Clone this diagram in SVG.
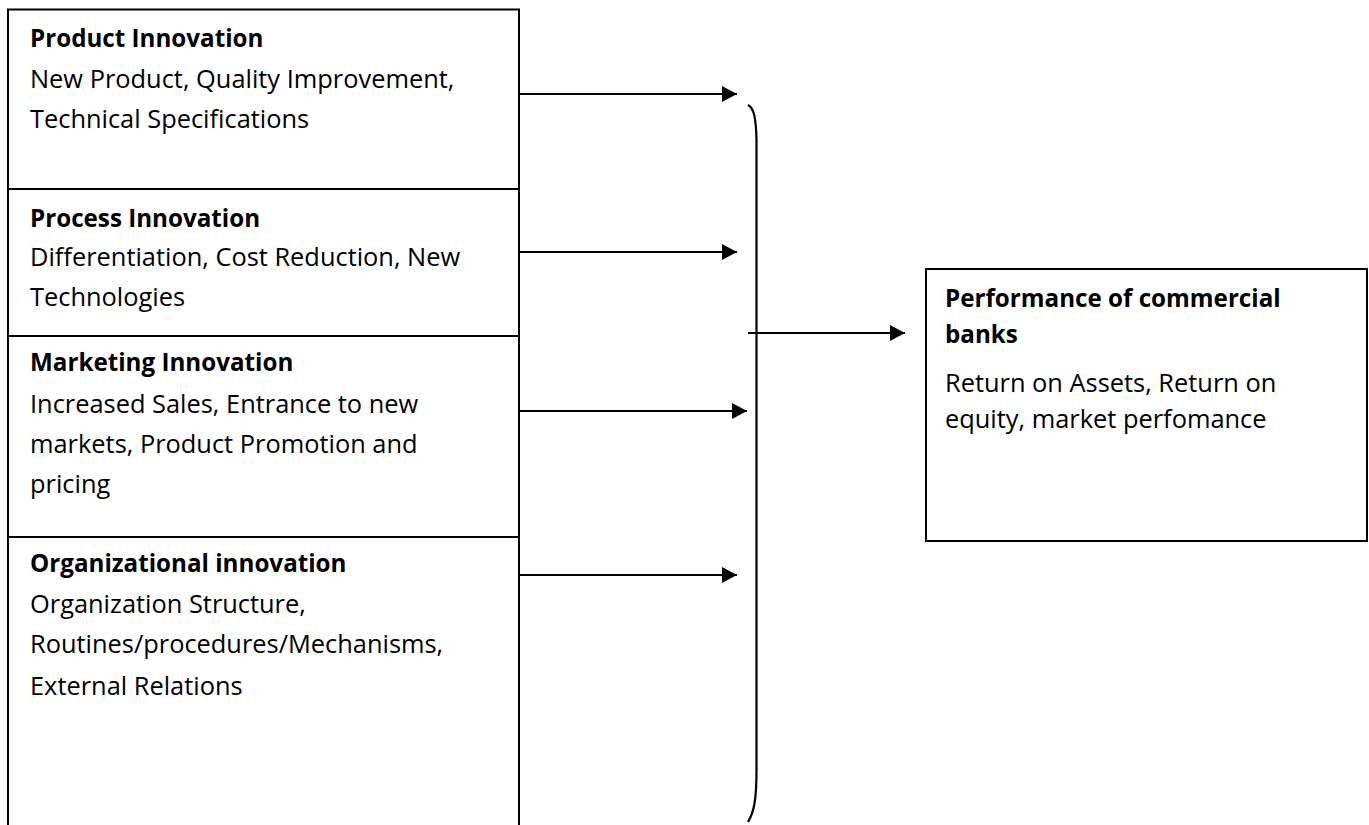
<svg xmlns="http://www.w3.org/2000/svg" width="1369" height="825" viewBox="0 0 1369 825">
<style>
.box{fill:#fff;stroke:#000;stroke-width:2}
.div{stroke:#000;stroke-width:1.8}
.t{font-family:"Open Sans","Noto Sans","Liberation Sans",sans-serif;font-size:25.4px;fill:#000}
.b{font-weight:bold;font-size:24.2px}
.con{stroke:#000;stroke-width:2.2;fill:none}
</style>
<defs>
<marker id="ah" markerUnits="userSpaceOnUse" markerWidth="16" markerHeight="16" refX="15" refY="8" orient="auto">
<path d="M0,0 L15,8 L0,16 Z" fill="#000"/>
</marker>
</defs>
<rect class="box" x="8" y="9.5" width="511" height="840"/>
<g id="product">
<text class="t b" x="30" y="47">Product Innovation</text>
<text class="t" x="30" y="88">New Product, Quality Improvement,</text>
<text class="t" x="30" y="128">Technical Specifications</text>
</g>
<line class="div" x1="8" y1="189" x2="519" y2="189"/>
<g id="process">
<text class="t b" x="30" y="227">Process Innovation</text>
<text class="t" x="30" y="266">Differentiation, Cost Reduction, New</text>
<text class="t" x="30" y="306">Technologies</text>
</g>
<line class="div" x1="8" y1="336" x2="519" y2="336"/>
<g id="marketing">
<text class="t b" x="30" y="371">Marketing Innovation</text>
<text class="t" x="30" y="413">Increased Sales, Entrance to new</text>
<text class="t" x="30" y="453">markets, Product Promotion and</text>
<text class="t" x="30" y="493">pricing</text>
</g>
<line class="div" x1="8" y1="537" x2="519" y2="537"/>
<g id="organizational">
<text class="t b" x="30" y="572">Organizational innovation</text>
<text class="t" x="30" y="613">Organization Structure,</text>
<text class="t" x="30" y="653">Routines/procedures/Mechanisms,</text>
<text class="t" x="30" y="695">External Relations</text>
</g>
<g id="performance">
<rect class="box" x="926" y="269" width="441" height="272"/>
<text class="t b" x="945" y="307">Performance of commercial</text>
<text class="t b" x="945" y="343">banks</text>
<text class="t" x="945" y="392">Return on Assets, Return on</text>
<text class="t" x="945" y="428">equity, market perfomance</text>
</g>
<g id="connectors">
<line class="con" x1="520" y1="94" x2="737" y2="94" marker-end="url(#ah)"/>
<line class="con" x1="520" y1="252" x2="737" y2="252" marker-end="url(#ah)"/>
<line class="con" x1="520" y1="411" x2="747" y2="411" marker-end="url(#ah)"/>
<line class="con" x1="520" y1="575" x2="737" y2="575" marker-end="url(#ah)"/>
<path class="con" d="M748,105 C754,108 756,118 756.5,140 L756.5,770 C756.5,800 754,812 748,822"/>
<line class="con" x1="748" y1="333" x2="905" y2="333" marker-end="url(#ah)"/>
</g>
</svg>
